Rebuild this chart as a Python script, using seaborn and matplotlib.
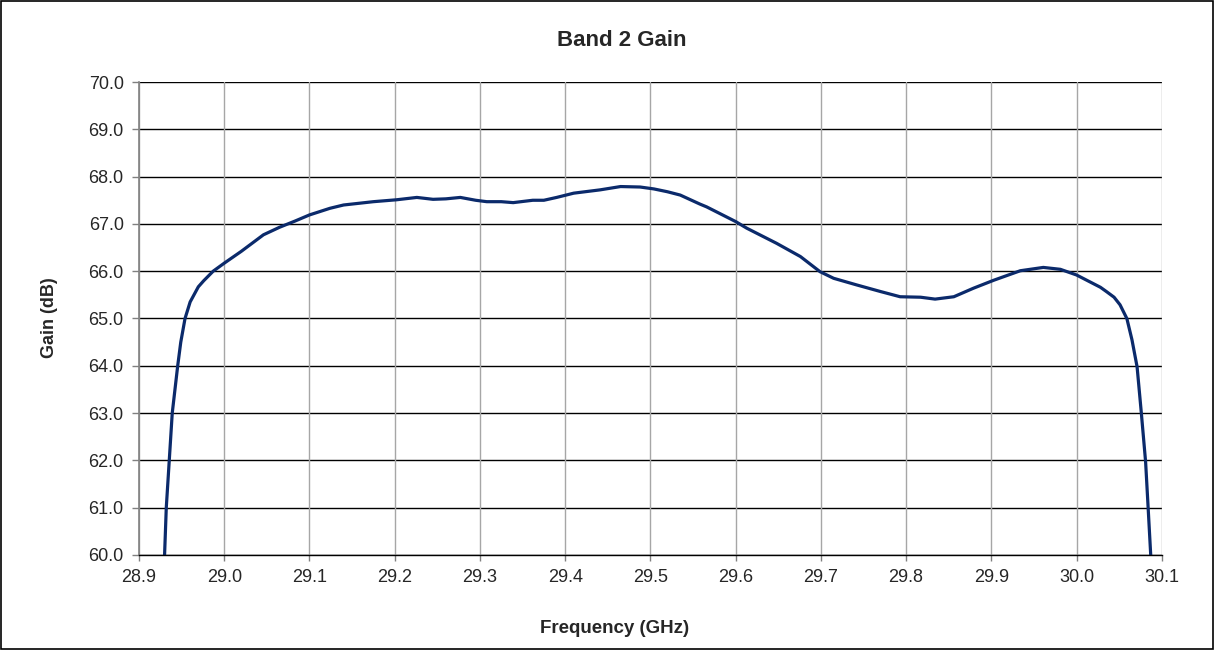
import numpy as np
import pandas as pd
from matplotlib import pyplot as plt
from matplotlib.patches import Rectangle
import seaborn as sns

# Band 2 gain curve
freq_ghz = [28.928, 28.930, 28.932, 28.9355, 28.939, 28.9454, 28.949, 28.954, 28.960, 28.9696,
            28.976, 28.987, 29.000, 29.020, 29.046, 29.065, 29.083, 29.100, 29.124, 29.140,
            29.155, 29.175, 29.202, 29.226, 29.245, 29.260, 29.277, 29.295, 29.308, 29.325,
            29.339, 29.362, 29.375, 29.390, 29.410, 29.441, 29.465, 29.488, 29.504, 29.520,
            29.535, 29.558, 29.566, 29.600, 29.613, 29.648, 29.676, 29.699, 29.715, 29.742,
            29.770, 29.793, 29.817, 29.834, 29.856, 29.879, 29.903, 29.934, 29.961, 29.981,
            30.000, 30.028, 30.035, 30.044, 30.051, 30.059, 30.065, 30.071, 30.076, 30.081,
            30.084, 30.087, 30.089]
gain_db = [59.0, 60.0, 61.0, 62.0, 63.0, 64.0, 64.5, 65.0, 65.35, 65.67,
           65.80, 66.0, 66.17, 66.42, 66.77, 66.93, 67.06, 67.19, 67.33, 67.40,
           67.43, 67.47, 67.51, 67.56, 67.52, 67.53, 67.56, 67.50, 67.47, 67.47,
           67.45, 67.50, 67.50, 67.56, 67.65, 67.72, 67.79, 67.78, 67.74, 67.68,
           67.61, 67.42, 67.36, 67.05, 66.91, 66.59, 66.31, 65.99, 65.85, 65.71,
           65.57, 65.46, 65.45, 65.41, 65.46, 65.64, 65.81, 66.01, 66.08, 66.04,
           65.92, 65.66, 65.57, 65.45, 65.29, 65.00, 64.55, 63.98, 63.0, 61.97,
           60.99, 60.0, 59.0]

x_ticks = [28.9, 29.0, 29.1, 29.2, 29.3, 29.4, 29.5, 29.6, 29.7, 29.8, 29.9, 30.0, 30.1]
y_ticks = [60, 61, 62, 63, 64, 65, 66, 67, 68, 69, 70]

df = pd.DataFrame({'freq': freq_ghz, 'gain': gain_db})

sns.set_style("white")
plt.rcParams['font.family'] = ['Liberation Sans', 'DejaVu Sans']

fig = plt.figure(figsize=(12.14, 6.5), dpi=100)
ax = fig.add_axes([0.1145, 0.1462, 0.957 - 0.1145, 0.8738 - 0.1462])

sns.lineplot(data=df, x='freq', y='gain', sort=False, color='#0b2a6b', linewidth=2.3, ax=ax)

ax.set_xlim(28.9, 30.1)
ax.set_ylim(60, 70)
ax.set_xticks(x_ticks)
ax.set_yticks(y_ticks)
ax.set_xticklabels(['%.1f' % v for v in x_ticks], fontsize=13)
ax.set_yticklabels(['%.1f' % v for v in y_ticks], fontsize=13)

# Excel style grid: black horizontals, grey verticals
for v in y_ticks:
    ax.axhline(v, color='black', linewidth=1.0, zorder=0.5)
for v in x_ticks:
    ax.axvline(v, color='#a6a6a6', linewidth=1.0, zorder=0.5)

for s in ['top', 'right']:
    ax.spines[s].set_visible(False)
ax.spines['left'].set_color('#808080')
ax.spines['bottom'].set_color('black')
ax.spines['left'].set_linewidth(1.2)
ax.spines['bottom'].set_linewidth(1.0)
ax.tick_params(axis='y', direction='out', length=5, width=1, color='#808080', pad=6, left=True)
ax.tick_params(axis='x', direction='out', length=4, width=1, color='#808080', pad=6, bottom=True)

ax.set_xlabel('')
ax.set_ylabel('')
fig.text(0.512, 0.938, 'Band 2 Gain', ha='center', va='center', fontsize=16, fontweight='bold')
fig.text(0.506, 0.033, 'Frequency (GHz)', ha='center', va='center', fontsize=13.5,
         fontweight='bold')
fig.text(0.041, 0.511, 'Gain (dB)', ha='center', va='center', rotation=90, fontsize=13,
         fontweight='bold')

# outer chart frame
fig.patches.append(Rectangle((0.0008, 0.0015), 0.9984, 0.997, transform=fig.transFigure,
                             fill=False, edgecolor='black', linewidth=1.2))

plt.savefig('out.png', dpi=100)
